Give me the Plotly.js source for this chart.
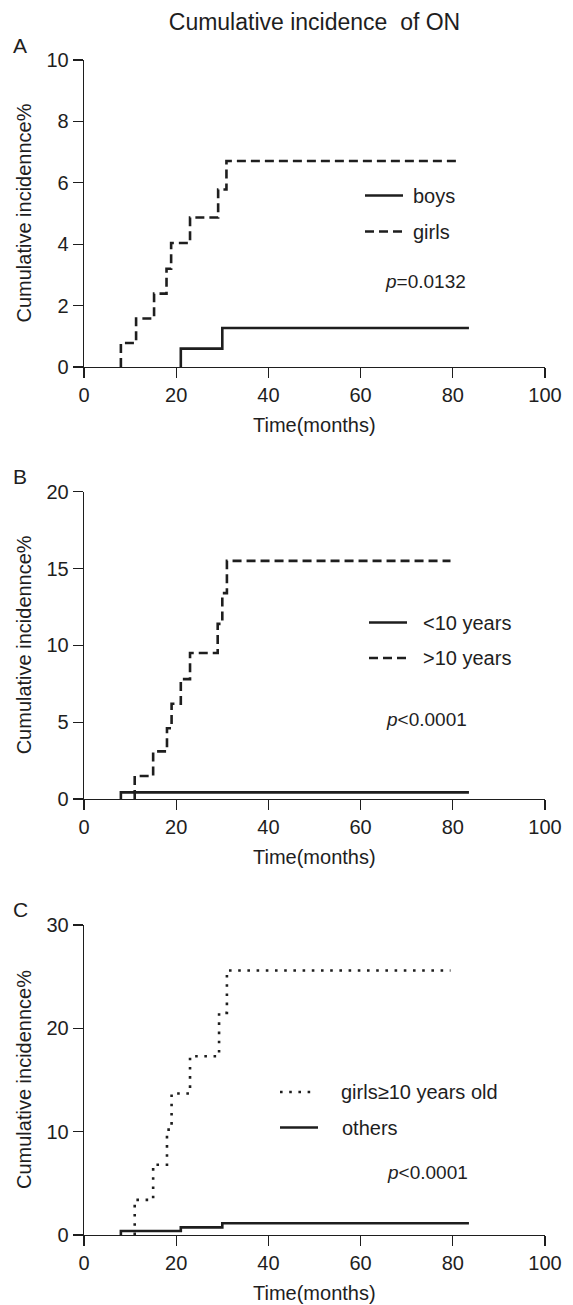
<!DOCTYPE html>
<html>
<head>
<meta charset="utf-8">
<script src="https://cdn.plot.ly/plotly-3.0.1.min.js"></script>
<style>html,body{margin:0;padding:0;background:#fff}#chart{width:573px;height:1305px}</style>
</head>
<body>
<div id="chart"></div>
<script>
// ---------- data (months, cumulative incidence %) ----------
// Panel A: sex
const boysTimes = [21, 30];
const boysValues = [0.6, 1.27];
const boysEnd = 83.5;
const girlsTimes = [8, 11.3, 15.2, 17.9, 18.9, 23, 29.1, 30.9];
const girlsValues = [0.78, 1.58, 2.39, 3.2, 4.04, 4.87, 5.78, 6.71];
const girlsEnd = 81.5;
// Panel B: age
const under10Times = [8];
const under10Values = [0.43];
const under10End = 83.5;
const over10Times = [11, 15, 18, 19, 21, 23, 29, 30, 31];
const over10Values = [1.5, 3.1, 4.6, 6.2, 7.8, 9.5, 11.4, 13.4, 15.5];
const over10End = 79.5;
// Panel C: girls >=10 vs others
const girls10Times = [11, 15, 18, 19, 23, 29.3, 31];
const girls10Values = [3.4, 6.8, 10.2, 13.7, 17.3, 21.5, 25.6];
const girls10End = 79.5;
const othersTimes = [8, 21, 30];
const othersValues = [0.39, 0.74, 1.13];
const othersEnd = 83.5;

const xTicks = [0, 20, 40, 60, 80, 100];
const yTicksA = [0, 2, 4, 6, 8, 10];
const yTicksB = [0, 5, 10, 15, 20];
const yTicksC = [0, 10, 20, 30];

const seriesNames = ["boys", "girls", "&lt;10 years", "&gt;10 years", "girls≥10 years old", "others"];
const pTexts = ["<i>p</i>=0.0132", "<i>p</i>&lt;0.0001", "<i>p</i>&lt;0.0001"];
const panelLetters = ["A", "B", "C"];
const chartTitle = "Cumulative incidence&nbsp; of ON";
const xTitle = "Time(months)";
const yTitle = "Cumulative incidennce%";

// ---------- geometry ----------
const W = 573, H = 1305, ML = 84, MR = 28, MT = 60, MB = 70;
const PW = W - ML - MR, PH = H - MT - MB;
const fx = px => (px - ML) / PW;
const fy = py => (H - MB - py) / PH;
const FONT = "Liberation Sans, Arial, sans-serif";
const INK = "#1e1e1e";

function stepXY(times, values, end) {
  return {
    x: [times[0]].concat(times, [end]),
    y: [0].concat(values, [values[values.length - 1]])
  };
}

const DASH = "9px,5px";
const DOT = "2.6px,6.6px";
const LW = 2.6;

function tr(times, values, end, name, dash, ax) {
  const s = stepXY(times, values, end);
  return {
    type: "scatter", mode: "lines", x: s.x, y: s.y, name: name,
    line: {shape: "hv", color: INK, width: LW, dash: dash},
    xaxis: "x" + (ax === 1 ? "" : ax), yaxis: "y" + (ax === 1 ? "" : ax),
    showlegend: false, hoverinfo: "x+y"
  };
}

const traces = [
  tr(boysTimes, boysValues, boysEnd, "boys", "solid", 1),
  tr(girlsTimes, girlsValues, girlsEnd, "girls", DASH, 1),
  tr(under10Times, under10Values, under10End, "<10 years", "solid", 2),
  tr(over10Times, over10Values, over10End, ">10 years", DASH, 2),
  tr(girls10Times, girls10Values, girls10End, "girls≥10 years old", DOT, 3),
  tr(othersTimes, othersValues, othersEnd, "others", "solid", 3)
];

const domains = [
  [fy(367), fy(60)],
  [fy(799), fy(491.7)],
  [fy(1235), fy(925)]
];
const yRanges = [[0, 10], [0, 20], [0, 30]];
const yTickSets = [yTicksA, yTicksB, yTicksC];

function xa(i) {
  return {
    domain: [0, 1], anchor: "y" + (i === 1 ? "" : i), range: [0, 100],
    tickvals: xTicks, ticks: "outside", ticklen: 10, tickwidth: 1.3, tickcolor: INK,
    showline: true, linecolor: INK, linewidth: 1.3, showgrid: false, zeroline: false,
    tickfont: {family: FONT, size: 20, color: INK}, fixedrange: true
  };
}
function ya(i) {
  return {
    domain: domains[i - 1], anchor: "x" + (i === 1 ? "" : i), range: yRanges[i - 1],
    tickvals: yTickSets[i - 1], ticks: "outside", ticklen: 10, tickwidth: 1.3, tickcolor: INK,
    showline: true, linecolor: INK, linewidth: 1.3, showgrid: false, zeroline: false,
    tickfont: {family: FONT, size: 20, color: INK}, fixedrange: true
  };
}

const annotations = [];
const shapes = [];
const axisBottoms = [367, 799, 1235];
const axisTops = [60, 491.7, 925];
for (let i = 0; i < 3; i++) {
  annotations.push({xref: "paper", yref: "paper", x: fx(20), y: fy(axisTops[i] - 15),
    text: panelLetters[i], showarrow: false, xanchor: "center", yanchor: "middle",
    font: {family: FONT, size: 21, color: INK}});
  annotations.push({xref: "paper", yref: "paper", x: fx(24), y: fy((axisTops[i] + axisBottoms[i]) / 2),
    text: yTitle, textangle: -90, showarrow: false, xanchor: "center", yanchor: "middle",
    font: {family: FONT, size: 20, color: INK}});
  annotations.push({xref: "paper", yref: "paper", x: 0.5, y: fy(axisBottoms[i] + 58),
    text: xTitle, showarrow: false, xanchor: "center", yanchor: "middle",
    font: {family: FONT, size: 20, color: INK}});
}

// legends
const legendItems = [
  {name: seriesNames[0], dash: "solid", x0: 365, x1: 403, y: 195.5, tx: 411},
  {name: seriesNames[1], dash: DASH, x0: 365, x1: 403, y: 231.5, tx: 411},
  {name: seriesNames[2], dash: "solid", x0: 369, x1: 407, y: 622.5, tx: 421},
  {name: seriesNames[3], dash: DASH, x0: 369, x1: 407, y: 658, tx: 421},
  {name: seriesNames[4], dash: DOT, x0: 280, x1: 315, y: 1092, tx: 339},
  {name: seriesNames[5], dash: "solid", x0: 280, x1: 318, y: 1127.5, tx: 340}
];
legendItems.forEach(it => {
  shapes.push({type: "line", xref: "paper", yref: "paper", x0: fx(it.x0), x1: fx(it.x1),
    y0: fy(it.y), y1: fy(it.y), line: {color: INK, width: LW, dash: it.dash}});
  annotations.push({xref: "paper", yref: "paper", x: fx(it.tx), y: fy(it.y),
    text: it.name, showarrow: false, xanchor: "left", yanchor: "middle",
    font: {family: FONT, size: 20, color: INK}});
});
const pPos = [[383, 281], [384, 719], [385, 1172]];
for (let i = 0; i < 3; i++) {
  annotations.push({xref: "paper", yref: "paper", x: fx(pPos[i][0]), y: fy(pPos[i][1]),
    text: pTexts[i], showarrow: false, xanchor: "left", yanchor: "middle",
    font: {family: FONT, size: 19, color: INK}});
}

const layout = {
  width: W, height: H,
  margin: {l: ML, r: MR, t: MT, b: MB},
  paper_bgcolor: "#fff", plot_bgcolor: "#fff",
  font: {family: FONT, color: INK},
  title: {text: chartTitle, x: fx(314.5), xref: "paper", xanchor: "center",
    y: 1 - 22 / H, yref: "container", yanchor: "middle",
    font: {family: FONT, size: 23, color: INK}},
  xaxis: xa(1), yaxis: ya(1),
  xaxis2: xa(2), yaxis2: ya(2),
  xaxis3: xa(3), yaxis3: ya(3),
  annotations: annotations, shapes: shapes,
  showlegend: false
};

Plotly.newPlot("chart", traces, layout, {displayModeBar: false, staticPlot: true});
</script>
</body>
</html>
